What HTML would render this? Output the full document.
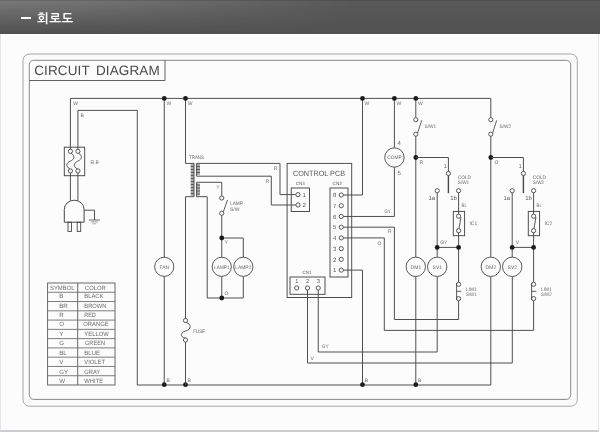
<!DOCTYPE html>
<html lang="ko"><head><meta charset="utf-8"><title>회로도</title>
<style>
html,body{margin:0;padding:0;background:#fff;}
body{width:600px;height:436px;overflow:hidden;position:relative;font-family:"Liberation Sans","NanumGothic","Noto Sans CJK KR",sans-serif;}
#hd{position:absolute;left:0;top:0;width:600px;height:34px;background:linear-gradient(to bottom,#595959 0,#515151 100%);overflow:hidden;}
#hd:before{content:"";position:absolute;left:0;top:0;width:360px;height:34px;background:linear-gradient(to bottom,rgba(255,255,255,.2) 0,rgba(255,255,255,.08) 55%,rgba(255,255,255,0) 100%);-webkit-mask-image:linear-gradient(to right,#000 0,rgba(0,0,0,.75) 120px,rgba(0,0,0,0) 100%);mask-image:linear-gradient(to right,#000 0,rgba(0,0,0,.75) 120px,rgba(0,0,0,0) 100%);}
#hd:after{content:"";position:absolute;left:0;top:0;width:600px;height:1px;background:rgba(0,0,0,.13);}
#hd .dash{position:absolute;left:21px;top:16.5px;width:10px;height:2.6px;background:#fff;}
#hd h1{position:absolute;left:37.3px;top:10px;margin:0;font:bold 12.5px/18px "Liberation Sans","NanumGothic","Noto Sans CJK KR",sans-serif;color:#fff;letter-spacing:0.5px;white-space:nowrap;}
#pg{position:absolute;left:0;top:34px;width:597px;height:396px;background:#fbfcfb;border-left:1px solid #e4e4e8;border-right:1px solid #e6e6ea;border-bottom:2px solid #cdcdd0;box-shadow:inset 0 0 0 1px #fff;}
svg{position:absolute;left:0;top:0;will-change:transform;}
#hd h1{will-change:transform;}
svg text{font-family:"Liberation Sans",sans-serif;text-rendering:geometricPrecision;}
</style></head><body>
<div id="hd"><span class="dash"></span><h1>회로도</h1></div>
<div id="pg"></div>
<svg width="600" height="436" viewBox="0 0 600 436">
<rect x="23" y="54" width="554.3" height="352.2" rx="6.5" ry="6.5" fill="none" stroke="#a6a6a6" stroke-width="1"/>
<rect x="29.3" y="60.3" width="541.4" height="339.1" rx="4.5" ry="4.5" fill="none" stroke="#888" stroke-width="1"/>
<path d="M29.3,80.5 H165 V60.3" fill="none" stroke="#5a5a5a" stroke-width="0.95" />
<text id="ttl" x="34.2" y="75.3" font-size="13.5" fill="#4a4a4a" style="letter-spacing:0.12px;word-spacing:2.5px">CIRCUIT DIAGRAM</text>
<path d="M70.4,149.2 V98.4 H490.8 V117.6" fill="none" stroke="#474747" stroke-width="0.95" />
<path d="M77.9,149.2 V110.4 H137.3 V385.0 H490.8 V276.5" fill="none" stroke="#474747" stroke-width="0.95" />
<rect x="64.3" y="147.2" width="20.4" height="28.5" fill="none" stroke="#474747" stroke-width="0.95"/>
<circle cx="70.4" cy="151.3" r="2.1" fill="#fbfcfb" stroke="#474747" stroke-width="0.9"/>
<circle cx="70.4" cy="170.9" r="2.1" fill="#fbfcfb" stroke="#474747" stroke-width="0.9"/>
<path d="M71.0,153.3 C75.4,155.5 74.4,159.5 70.4,161.1 C66.2,162.8 65.4,166.5 69.80000000000001,168.9" fill="none" stroke="#474747" stroke-width="0.9" />
<path d="M70.4,173 V200.6" fill="none" stroke="#474747" stroke-width="0.95" />
<circle cx="77.9" cy="151.3" r="2.1" fill="#fbfcfb" stroke="#474747" stroke-width="0.9"/>
<circle cx="77.9" cy="170.9" r="2.1" fill="#fbfcfb" stroke="#474747" stroke-width="0.9"/>
<path d="M78.5,153.3 C82.9,155.5 81.9,159.5 77.9,161.1 C73.7,162.8 72.9,166.5 77.30000000000001,168.9" fill="none" stroke="#474747" stroke-width="0.9" />
<path d="M77.9,173 V200.6" fill="none" stroke="#474747" stroke-width="0.95" />
<text x="90.4" y="163.8" font-size="5.0" text-anchor="start" fill="#6a6a6a" textLength="8.3" lengthAdjust="spacingAndGlyphs" >ELB</text>
<path d="M64.3,222.2 V209.4 A9.9,9.2 0 0 1 84.1,209.4 V222.2 Z" fill="#fbfcfb" stroke="#474747" stroke-width="1"/>
<rect x="68" y="222.2" width="3.5" height="9.2" fill="none" stroke="#474747" stroke-width="0.9"/>
<rect x="77.2" y="222.2" width="3.5" height="9.2" fill="none" stroke="#474747" stroke-width="0.9"/>
<path d="M84.1,210.2 H94.5 V220" fill="none" stroke="#474747" stroke-width="0.95" />
<path d="M88.9,220 H99.9" fill="none" stroke="#474747" stroke-width="0.8" />
<path d="M90.7,221.9 H98" fill="none" stroke="#666" stroke-width="0.6" />
<path d="M92.2,223.8 H96.4" fill="none" stroke="#777" stroke-width="0.6" />
<path d="M164.25,98.4 V385.0" fill="none" stroke="#474747" stroke-width="0.95" />
<circle cx="164.25" cy="266.8" r="9.6" fill="#fbfcfb" stroke="#474747" stroke-width="0.9"/>
<circle cx="164.25" cy="98.4" r="2.4" fill="#1c1c1c"/>
<circle cx="164.25" cy="384.7" r="2.4" fill="#1c1c1c"/>
<text x="164.3" y="268.6" font-size="5.0" text-anchor="middle" fill="#6a6a6a" textLength="9.8" lengthAdjust="spacingAndGlyphs" >FAN</text>
<path d="M185.5,98.4 V163.4 H194 V196.7 H185.5 V318.4" fill="none" stroke="#474747" stroke-width="0.95" />
<circle cx="185.5" cy="98.4" r="2.4" fill="#1c1c1c"/>
<circle cx="185.5" cy="384.7" r="2.4" fill="#1c1c1c"/>
<circle cx="185.5" cy="320.5" r="2.1" fill="#fbfcfb" stroke="#474747" stroke-width="0.9"/>
<circle cx="185.5" cy="340" r="2.1" fill="#fbfcfb" stroke="#474747" stroke-width="0.9"/>
<path d="M186.3,322.5 C191.5,324 191.5,329.3 185.6,331 C179.6,332.7 180.5,337 184.8,338" fill="none" stroke="#474747" stroke-width="0.9" />
<path d="M185.5,342.1 V385.0" fill="none" stroke="#474747" stroke-width="0.95" />
<text x="193.25" y="332.5" font-size="5.0" text-anchor="start" fill="#6a6a6a" textLength="11.8" lengthAdjust="spacingAndGlyphs" >FUSE</text>
<path d="M192.35,164.6 V195.4" fill="none" stroke="#5c5c5c" stroke-width="3.3" stroke-dasharray="0.85 0.65"/>
<path d="M198.3,164.6 V174.8" fill="none" stroke="#5c5c5c" stroke-width="3.4" stroke-dasharray="0.85 0.65"/>
<path d="M198.3,183.8 V195.4" fill="none" stroke="#5c5c5c" stroke-width="3.4" stroke-dasharray="0.85 0.65"/>
<path d="M295.9,194.6 H280 V163.4 H196.6 V176.2 H271.3 V205 H295.9" fill="none" stroke="#474747" stroke-width="0.95" />
<path d="M221.75,195.9 V182.3 H196.6 V196.7 H207.2 V298 H243.3 V276.4" fill="none" stroke="#474747" stroke-width="0.95" />
<text x="189" y="158.7" font-size="5.0" text-anchor="start" fill="#6a6a6a" textLength="15" lengthAdjust="spacingAndGlyphs" >TRANS</text>
<text x="273.75" y="170.1" font-size="5.0" text-anchor="start" fill="#6a6a6a" >R</text>
<text x="265.5" y="182.6" font-size="5.0" text-anchor="start" fill="#6a6a6a" >R</text>
<text x="216.3" y="189.1" font-size="5.0" text-anchor="start" fill="#6a6a6a" >Y</text>
<circle cx="221.75" cy="198" r="2.1" fill="#fbfcfb" stroke="#474747" stroke-width="0.9"/>
<circle cx="221.75" cy="213.25" r="2.1" fill="#fbfcfb" stroke="#474747" stroke-width="0.9"/>
<path d="M223.4,211.6 L227.5,200" fill="none" stroke="#474747" stroke-width="0.9" />
<text x="230" y="205.1" font-size="5.0" text-anchor="start" fill="#6a6a6a" textLength="13" lengthAdjust="spacingAndGlyphs" >LAMP</text>
<text x="230" y="211.3" font-size="5.0" text-anchor="start" fill="#6a6a6a" textLength="9.5" lengthAdjust="spacingAndGlyphs" >S/W</text>
<path d="M221.75,215.35 V298" fill="none" stroke="#474747" stroke-width="0.95" />
<path d="M221.75,238 H243.3 V257.2" fill="none" stroke="#474747" stroke-width="0.95" />
<circle cx="221.75" cy="266.8" r="9.6" fill="#fbfcfb" stroke="#474747" stroke-width="0.9"/>
<circle cx="243.3" cy="266.8" r="9.6" fill="#fbfcfb" stroke="#474747" stroke-width="0.9"/>
<circle cx="221.75" cy="238" r="2.4" fill="#1c1c1c"/>
<circle cx="221.75" cy="298" r="2.4" fill="#1c1c1c"/>
<text x="221.9" y="268.6" font-size="5.0" text-anchor="middle" fill="#6a6a6a" textLength="15.2" lengthAdjust="spacingAndGlyphs" >LAMP1</text>
<text x="243.2" y="268.6" font-size="5.0" text-anchor="middle" fill="#6a6a6a" textLength="16" lengthAdjust="spacingAndGlyphs" >LAMP2</text>
<text x="224.5" y="244.4" font-size="5.0" text-anchor="start" fill="#6a6a6a" >Y</text>
<text x="224.5" y="295.1" font-size="5.0" text-anchor="start" fill="#6a6a6a" >O</text>
<rect x="287.1" y="163.4" width="64.6" height="134.1" fill="none" stroke="#474747" stroke-width="0.95"/>
<rect x="291.25" y="188" width="18.25" height="23.5" fill="none" stroke="#474747" stroke-width="0.95"/>
<rect x="330" y="188" width="18" height="89" fill="none" stroke="#474747" stroke-width="0.95"/>
<rect x="290" y="277" width="35" height="17.3" fill="none" stroke="#474747" stroke-width="0.95"/>
<text x="293" y="175.6" font-size="7.7" fill="#555" textLength="52" lengthAdjust="spacingAndGlyphs">CONTROL PCB</text>
<text x="295.8" y="185.1" font-size="4.6" text-anchor="start" fill="#5c5c5c" textLength="8.8" lengthAdjust="spacingAndGlyphs" >CN3</text>
<text x="332.5" y="185.1" font-size="4.6" text-anchor="start" fill="#5c5c5c" textLength="9.4" lengthAdjust="spacingAndGlyphs" >CN2</text>
<text x="302.5" y="274.2" font-size="4.6" text-anchor="start" fill="#5c5c5c" textLength="9" lengthAdjust="spacingAndGlyphs" >CN1</text>
<circle cx="298" cy="194.6" r="2.1" fill="#fbfcfb" stroke="#474747" stroke-width="0.9"/>
<circle cx="298" cy="205" r="2.1" fill="#fbfcfb" stroke="#474747" stroke-width="0.9"/>
<text x="302.5" y="196.8" font-size="6" text-anchor="start" fill="#555" >1</text>
<text x="302.5" y="207.2" font-size="6" text-anchor="start" fill="#555" >2</text>
<circle cx="341.25" cy="195.0" r="2.1" fill="#fbfcfb" stroke="#474747" stroke-width="0.9"/>
<text x="332.9" y="197.15" font-size="6" text-anchor="start" fill="#555" >8</text>
<circle cx="341.25" cy="205.73" r="2.1" fill="#fbfcfb" stroke="#474747" stroke-width="0.9"/>
<text x="332.9" y="207.88" font-size="6" text-anchor="start" fill="#555" >7</text>
<circle cx="341.25" cy="216.46" r="2.1" fill="#fbfcfb" stroke="#474747" stroke-width="0.9"/>
<text x="332.9" y="218.61" font-size="6" text-anchor="start" fill="#555" >6</text>
<circle cx="341.25" cy="227.19" r="2.1" fill="#fbfcfb" stroke="#474747" stroke-width="0.9"/>
<text x="332.9" y="229.34" font-size="6" text-anchor="start" fill="#555" >5</text>
<circle cx="341.25" cy="237.92" r="2.1" fill="#fbfcfb" stroke="#474747" stroke-width="0.9"/>
<text x="332.9" y="240.07" font-size="6" text-anchor="start" fill="#555" >4</text>
<circle cx="341.25" cy="248.65" r="2.1" fill="#fbfcfb" stroke="#474747" stroke-width="0.9"/>
<text x="332.9" y="250.8" font-size="6" text-anchor="start" fill="#555" >3</text>
<circle cx="341.25" cy="259.38" r="2.1" fill="#fbfcfb" stroke="#474747" stroke-width="0.9"/>
<text x="332.9" y="261.53" font-size="6" text-anchor="start" fill="#555" >2</text>
<circle cx="341.25" cy="270.11" r="2.1" fill="#fbfcfb" stroke="#474747" stroke-width="0.9"/>
<text x="332.9" y="272.26" font-size="6" text-anchor="start" fill="#555" >1</text>
<circle cx="296.75" cy="288" r="2.1" fill="#fbfcfb" stroke="#474747" stroke-width="0.9"/>
<text x="296.75" y="282.7" font-size="5.6" text-anchor="middle" fill="#555" >1</text>
<circle cx="307.5" cy="288" r="2.1" fill="#fbfcfb" stroke="#474747" stroke-width="0.9"/>
<text x="307.5" y="282.7" font-size="5.6" text-anchor="middle" fill="#555" >2</text>
<circle cx="318.25" cy="288" r="2.1" fill="#fbfcfb" stroke="#474747" stroke-width="0.9"/>
<text x="318.25" y="282.7" font-size="5.6" text-anchor="middle" fill="#555" >3</text>
<path d="M343.35,195.0 H362.5 V98.4" fill="none" stroke="#474747" stroke-width="0.95" />
<circle cx="362.5" cy="98.4" r="2.4" fill="#1c1c1c"/>
<path d="M343.35,270.11 H362.5 V385.0" fill="none" stroke="#474747" stroke-width="0.95" />
<circle cx="362.5" cy="384.7" r="2.4" fill="#1c1c1c"/>
<path d="M343.35,216.46 H394.4 V98.4" fill="none" stroke="#474747" stroke-width="0.95" />
<circle cx="394.4" cy="98.4" r="2.4" fill="#1c1c1c"/>
<circle cx="394.4" cy="157.5" r="9.7" fill="#fbfcfb" stroke="#474747" stroke-width="0.9"/>
<text x="394.5" y="159.3" font-size="5.0" text-anchor="middle" fill="#6a6a6a" textLength="14.6" lengthAdjust="spacingAndGlyphs" >COMP</text>
<path d="M343.35,227.19 H394.4 V319.5 H458.6 V300.7" fill="none" stroke="#474747" stroke-width="0.95" />
<path d="M343.35,237.92 H384.3 V330.4 H533.6 V300.7" fill="none" stroke="#474747" stroke-width="0.95" />
<path d="M307.5,290.1 V363 H512.3 V276.5" fill="none" stroke="#474747" stroke-width="0.95" />
<path d="M318.25,290.1 V352 H437.2 V276.5" fill="none" stroke="#474747" stroke-width="0.95" />
<text x="384.5" y="213.1" font-size="5.0" text-anchor="start" fill="#6a6a6a" textLength="6.2" lengthAdjust="spacingAndGlyphs" >GY</text>
<text x="388" y="233.4" font-size="5.0" text-anchor="start" fill="#6a6a6a" >R</text>
<text x="377.5" y="244.6" font-size="5.0" text-anchor="start" fill="#6a6a6a" >O</text>
<text x="397.4" y="145.1" font-size="6" text-anchor="start" fill="#555" >4</text>
<text x="397.4" y="174.6" font-size="6" text-anchor="start" fill="#555" >5</text>
<text x="321.8" y="348.1" font-size="5.0" text-anchor="start" fill="#6a6a6a" textLength="6.8" lengthAdjust="spacingAndGlyphs" >GY</text>
<text x="310.5" y="359.6" font-size="5.0" text-anchor="start" fill="#6a6a6a" >V</text>
<text x="166.4" y="382.3" font-size="5.0" text-anchor="start" fill="#6a6a6a" >B</text>
<text x="187.6" y="382.3" font-size="5.0" text-anchor="start" fill="#6a6a6a" >B</text>
<text x="364.7" y="382.3" font-size="5.0" text-anchor="start" fill="#6a6a6a" >B</text>
<text x="418.1" y="382.3" font-size="5.0" text-anchor="start" fill="#6a6a6a" >B</text>
<text x="73.3" y="104.9" font-size="5.0" text-anchor="start" fill="#6a6a6a" >W</text>
<text x="80.4" y="116.9" font-size="5.0" text-anchor="start" fill="#6a6a6a" >B</text>
<text x="166.4" y="104.8" font-size="5.0" text-anchor="start" fill="#6a6a6a" >W</text>
<text x="187.7" y="104.8" font-size="5.0" text-anchor="start" fill="#6a6a6a" >W</text>
<text x="364.6" y="104.8" font-size="5.0" text-anchor="start" fill="#6a6a6a" >W</text>
<text x="396.6" y="104.8" font-size="5.0" text-anchor="start" fill="#6a6a6a" >W</text>
<text x="417.9" y="104.8" font-size="5.0" text-anchor="start" fill="#6a6a6a" >W</text>
<path d="M415.8,98.4 V117.6" fill="none" stroke="#474747" stroke-width="0.95" />
<circle cx="415.8" cy="98.4" r="2.4" fill="#1c1c1c"/>
<circle cx="415.8" cy="119.7" r="2.1" fill="#fbfcfb" stroke="#474747" stroke-width="0.9"/>
<circle cx="415.8" cy="134.2" r="2.1" fill="#fbfcfb" stroke="#474747" stroke-width="0.9"/>
<path d="M417.7,132.8 L421.7,120.3" fill="none" stroke="#474747" stroke-width="0.85" />
<text x="424.5" y="127.6" font-size="5.0" text-anchor="start" fill="#6a6a6a" textLength="11.7" lengthAdjust="spacingAndGlyphs" >S/W1</text>
<path d="M415.8,136.3 V385.0" fill="none" stroke="#474747" stroke-width="0.95" />
<circle cx="415.8" cy="384.7" r="2.4" fill="#1c1c1c"/>
<circle cx="415.8" cy="266.8" r="9.7" fill="#fbfcfb" stroke="#474747" stroke-width="0.9"/>
<text x="415.90000000000003" y="268.6" font-size="5.0" text-anchor="middle" fill="#6a6a6a" textLength="10.6" lengthAdjust="spacingAndGlyphs" >DM1</text>
<circle cx="415.8" cy="157.5" r="2.4" fill="#1c1c1c"/>
<path d="M415.8,157.5 H448.4 V171.4" fill="none" stroke="#474747" stroke-width="0.95" />
<circle cx="448.4" cy="173.5" r="2.1" fill="#fbfcfb" stroke="#474747" stroke-width="0.9"/>
<path d="M448.4,175.6 V193.2" fill="none" stroke="#474747" stroke-width="1.4" />
<text x="419.6" y="164.4" font-size="5.0" text-anchor="start" fill="#6a6a6a" >R</text>
<text x="443.8" y="168.3" font-size="5.6" text-anchor="start" fill="#6a6a6a" >1</text>
<text x="457.8" y="178.6" font-size="5.0" text-anchor="start" fill="#6a6a6a" textLength="13.2" lengthAdjust="spacingAndGlyphs" >COLD</text>
<text x="457.8" y="184.1" font-size="5.0" text-anchor="start" fill="#6a6a6a" textLength="11.4" lengthAdjust="spacingAndGlyphs" >S/W1</text>
<circle cx="437.2" cy="190.7" r="2.1" fill="#fbfcfb" stroke="#474747" stroke-width="0.9"/>
<path d="M437.2,192.8 V257.2" fill="none" stroke="#474747" stroke-width="0.95" />
<circle cx="437.2" cy="266.8" r="9.7" fill="#fbfcfb" stroke="#474747" stroke-width="0.9"/>
<text x="437.3" y="268.6" font-size="5.0" text-anchor="middle" fill="#6a6a6a" textLength="9.4" lengthAdjust="spacingAndGlyphs" >SV1</text>
<text x="428.4" y="200.4" font-size="6.0" text-anchor="start" fill="#5a5a5a" >1a</text>
<text x="450.2" y="200.4" font-size="6.0" text-anchor="start" fill="#5a5a5a" >1b</text>
<circle cx="458.6" cy="190.7" r="2.1" fill="#fbfcfb" stroke="#474747" stroke-width="0.9"/>
<path d="M458.6,192.8 V214.1" fill="none" stroke="#474747" stroke-width="0.95" />
<rect x="453.3" y="211.4" width="11.3" height="24.3" fill="none" stroke="#474747" stroke-width="0.95"/>
<circle cx="458.6" cy="216.2" r="2.1" fill="#fbfcfb" stroke="#474747" stroke-width="0.9"/>
<circle cx="458.6" cy="230.7" r="2.1" fill="#fbfcfb" stroke="#474747" stroke-width="0.9"/>
<path d="M459.0,228.7 L460.9,217.2" fill="none" stroke="#474747" stroke-width="0.9" />
<path d="M458.6,232.8 V282.2" fill="none" stroke="#474747" stroke-width="0.95" />
<text x="461.6" y="206.6" font-size="5.0" text-anchor="start" fill="#6a6a6a" textLength="5.2" lengthAdjust="spacingAndGlyphs" >BL</text>
<text x="469.5" y="224.7" font-size="5.0" text-anchor="start" fill="#6a6a6a" textLength="7.7" lengthAdjust="spacingAndGlyphs" >IC1</text>
<path d="M437.2,247.4 H458.6" fill="none" stroke="#474747" stroke-width="0.95" />
<circle cx="437.2" cy="247.4" r="2.4" fill="#1c1c1c"/>
<circle cx="458.6" cy="247.4" r="2.4" fill="#1c1c1c"/>
<text x="440.2" y="243.6" font-size="5.0" text-anchor="start" fill="#6a6a6a" >GY</text>
<circle cx="458.6" cy="284.3" r="2.1" fill="#fbfcfb" stroke="#474747" stroke-width="0.9"/>
<circle cx="458.6" cy="298.6" r="2.1" fill="#fbfcfb" stroke="#474747" stroke-width="0.9"/>
<path d="M456.6,283 V300 M456.6,291.3 H461.3" fill="none" stroke="#474747" stroke-width="0.9" />
<text x="466" y="290.9" font-size="5.0" text-anchor="start" fill="#6a6a6a" textLength="10.6" lengthAdjust="spacingAndGlyphs" >LIM1</text>
<text x="466" y="295.9" font-size="5.0" text-anchor="start" fill="#6a6a6a" textLength="10.6" lengthAdjust="spacingAndGlyphs" >S/W1</text>
<circle cx="490.8" cy="119.7" r="2.1" fill="#fbfcfb" stroke="#474747" stroke-width="0.9"/>
<circle cx="490.8" cy="134.2" r="2.1" fill="#fbfcfb" stroke="#474747" stroke-width="0.9"/>
<path d="M492.7,132.8 L496.7,120.3" fill="none" stroke="#474747" stroke-width="0.85" />
<text x="499.5" y="127.6" font-size="5.0" text-anchor="start" fill="#6a6a6a" textLength="11.7" lengthAdjust="spacingAndGlyphs" >S/W2</text>
<path d="M490.8,136.3 V257.2" fill="none" stroke="#474747" stroke-width="0.95" />
<circle cx="490.8" cy="266.8" r="9.7" fill="#fbfcfb" stroke="#474747" stroke-width="0.9"/>
<text x="490.90000000000003" y="268.6" font-size="5.0" text-anchor="middle" fill="#6a6a6a" textLength="10.6" lengthAdjust="spacingAndGlyphs" >DM2</text>
<circle cx="490.8" cy="157.5" r="2.4" fill="#1c1c1c"/>
<path d="M490.8,157.5 H523.4 V171.4" fill="none" stroke="#474747" stroke-width="0.95" />
<circle cx="523.4" cy="173.5" r="2.1" fill="#fbfcfb" stroke="#474747" stroke-width="0.9"/>
<path d="M523.4,175.6 V193.2" fill="none" stroke="#474747" stroke-width="1.4" />
<text x="494.6" y="164.4" font-size="5.0" text-anchor="start" fill="#6a6a6a" >O</text>
<text x="518.8" y="168.3" font-size="5.6" text-anchor="start" fill="#6a6a6a" >1</text>
<text x="532.8" y="178.6" font-size="5.0" text-anchor="start" fill="#6a6a6a" textLength="13.2" lengthAdjust="spacingAndGlyphs" >COLD</text>
<text x="532.8" y="184.1" font-size="5.0" text-anchor="start" fill="#6a6a6a" textLength="11.4" lengthAdjust="spacingAndGlyphs" >S/W2</text>
<circle cx="512.2" cy="190.7" r="2.1" fill="#fbfcfb" stroke="#474747" stroke-width="0.9"/>
<path d="M512.2,192.8 V257.2" fill="none" stroke="#474747" stroke-width="0.95" />
<circle cx="512.2" cy="266.8" r="9.7" fill="#fbfcfb" stroke="#474747" stroke-width="0.9"/>
<text x="512.3" y="268.6" font-size="5.0" text-anchor="middle" fill="#6a6a6a" textLength="9.4" lengthAdjust="spacingAndGlyphs" >SV2</text>
<text x="503.4" y="200.4" font-size="6.0" text-anchor="start" fill="#5a5a5a" >1a</text>
<text x="525.2" y="200.4" font-size="6.0" text-anchor="start" fill="#5a5a5a" >1b</text>
<circle cx="533.6" cy="190.7" r="2.1" fill="#fbfcfb" stroke="#474747" stroke-width="0.9"/>
<path d="M533.6,192.8 V214.1" fill="none" stroke="#474747" stroke-width="0.95" />
<rect x="528.3" y="211.4" width="11.3" height="24.3" fill="none" stroke="#474747" stroke-width="0.95"/>
<circle cx="533.6" cy="216.2" r="2.1" fill="#fbfcfb" stroke="#474747" stroke-width="0.9"/>
<circle cx="533.6" cy="230.7" r="2.1" fill="#fbfcfb" stroke="#474747" stroke-width="0.9"/>
<path d="M534.0,228.7 L535.9,217.2" fill="none" stroke="#474747" stroke-width="0.9" />
<path d="M533.6,232.8 V282.2" fill="none" stroke="#474747" stroke-width="0.95" />
<text x="536.6" y="206.6" font-size="5.0" text-anchor="start" fill="#6a6a6a" textLength="5.2" lengthAdjust="spacingAndGlyphs" >BL</text>
<text x="544.5" y="224.7" font-size="5.0" text-anchor="start" fill="#6a6a6a" textLength="7.7" lengthAdjust="spacingAndGlyphs" >IC2</text>
<path d="M512.2,247.4 H533.6" fill="none" stroke="#474747" stroke-width="0.95" />
<circle cx="512.2" cy="247.4" r="2.4" fill="#1c1c1c"/>
<circle cx="533.6" cy="247.4" r="2.4" fill="#1c1c1c"/>
<text x="515.7" y="243.6" font-size="5.0" text-anchor="start" fill="#6a6a6a" >V</text>
<circle cx="533.6" cy="284.3" r="2.1" fill="#fbfcfb" stroke="#474747" stroke-width="0.9"/>
<circle cx="533.6" cy="298.6" r="2.1" fill="#fbfcfb" stroke="#474747" stroke-width="0.9"/>
<path d="M531.6,283 V300 M531.6,291.3 H536.3" fill="none" stroke="#474747" stroke-width="0.9" />
<text x="541" y="290.9" font-size="5.0" text-anchor="start" fill="#6a6a6a" textLength="10.6" lengthAdjust="spacingAndGlyphs" >LIM1</text>
<text x="541" y="295.9" font-size="5.0" text-anchor="start" fill="#6a6a6a" textLength="10.6" lengthAdjust="spacingAndGlyphs" >S/W2</text>
<rect x="47.6" y="283" width="67.4" height="101.99" fill="none" stroke="#606060" stroke-width="0.95"/>
<path d="M77.7,283 V384.99" fill="none" stroke="#606060" stroke-width="0.95" />
<path d="M47.6,292.27 H115.0" fill="none" stroke="#666" stroke-width="0.85" />
<path d="M47.6,301.54 H115.0" fill="none" stroke="#666" stroke-width="0.85" />
<path d="M47.6,310.82 H115.0" fill="none" stroke="#666" stroke-width="0.85" />
<path d="M47.6,320.09 H115.0" fill="none" stroke="#666" stroke-width="0.85" />
<path d="M47.6,329.36 H115.0" fill="none" stroke="#666" stroke-width="0.85" />
<path d="M47.6,338.63 H115.0" fill="none" stroke="#666" stroke-width="0.85" />
<path d="M47.6,347.9 H115.0" fill="none" stroke="#666" stroke-width="0.85" />
<path d="M47.6,357.18 H115.0" fill="none" stroke="#666" stroke-width="0.85" />
<path d="M47.6,366.45 H115.0" fill="none" stroke="#666" stroke-width="0.85" />
<path d="M47.6,375.72 H115.0" fill="none" stroke="#666" stroke-width="0.85" />
<text x="50" y="289.9" font-size="6.2" text-anchor="start" fill="#6a6a6a" textLength="24.5" lengthAdjust="spacingAndGlyphs" >SYMBOL</text>
<text x="85" y="289.9" font-size="6.2" text-anchor="start" fill="#6a6a6a" textLength="20.8" lengthAdjust="spacingAndGlyphs" >COLOR</text>
<text x="59.2" y="298.0" font-size="6.2" text-anchor="start" fill="#6a6a6a" >B</text>
<text x="84.3" y="298.0" font-size="6.2" text-anchor="start" fill="#6a6a6a" textLength="19" lengthAdjust="spacingAndGlyphs" >BLACK</text>
<text x="59.2" y="307.8" font-size="6.2" text-anchor="start" fill="#6a6a6a" >BR</text>
<text x="84.3" y="307.8" font-size="6.2" text-anchor="start" fill="#6a6a6a" textLength="22" lengthAdjust="spacingAndGlyphs" >BROWN</text>
<text x="59.2" y="317.2" font-size="6.2" text-anchor="start" fill="#6a6a6a" >R</text>
<text x="84.3" y="317.2" font-size="6.2" text-anchor="start" fill="#6a6a6a" textLength="11.5" lengthAdjust="spacingAndGlyphs" >RED</text>
<text x="59.2" y="326.3" font-size="6.2" text-anchor="start" fill="#6a6a6a" >O</text>
<text x="83.3" y="326.3" font-size="6.2" text-anchor="start" fill="#6a6a6a" textLength="25.5" lengthAdjust="spacingAndGlyphs" >ORANGE</text>
<text x="59.2" y="335.6" font-size="6.2" text-anchor="start" fill="#6a6a6a" >Y</text>
<text x="84.3" y="335.6" font-size="6.2" text-anchor="start" fill="#6a6a6a" textLength="24.5" lengthAdjust="spacingAndGlyphs" >YELLOW</text>
<text x="59.2" y="345.3" font-size="6.2" text-anchor="start" fill="#6a6a6a" >G</text>
<text x="85" y="345.3" font-size="6.2" text-anchor="start" fill="#6a6a6a" textLength="20" lengthAdjust="spacingAndGlyphs" >GREEN</text>
<text x="59.2" y="354.8" font-size="6.2" text-anchor="start" fill="#6a6a6a" >BL</text>
<text x="84.3" y="354.8" font-size="6.2" text-anchor="start" fill="#6a6a6a" textLength="15.8" lengthAdjust="spacingAndGlyphs" >BLUE</text>
<text x="59.2" y="364.3" font-size="6.2" text-anchor="start" fill="#6a6a6a" >V</text>
<text x="84.3" y="364.3" font-size="6.2" text-anchor="start" fill="#6a6a6a" textLength="20.8" lengthAdjust="spacingAndGlyphs" >VIOLET</text>
<text x="59.2" y="373.7" font-size="6.2" text-anchor="start" fill="#6a6a6a" >GY</text>
<text x="84.3" y="373.7" font-size="6.2" text-anchor="start" fill="#6a6a6a" textLength="15.8" lengthAdjust="spacingAndGlyphs" >GRAY</text>
<text x="59.2" y="382.9" font-size="6.2" text-anchor="start" fill="#6a6a6a" >W</text>
<text x="84.3" y="382.9" font-size="6.2" text-anchor="start" fill="#6a6a6a" textLength="18.8" lengthAdjust="spacingAndGlyphs" >WHITE</text>
</svg>
</body></html>
